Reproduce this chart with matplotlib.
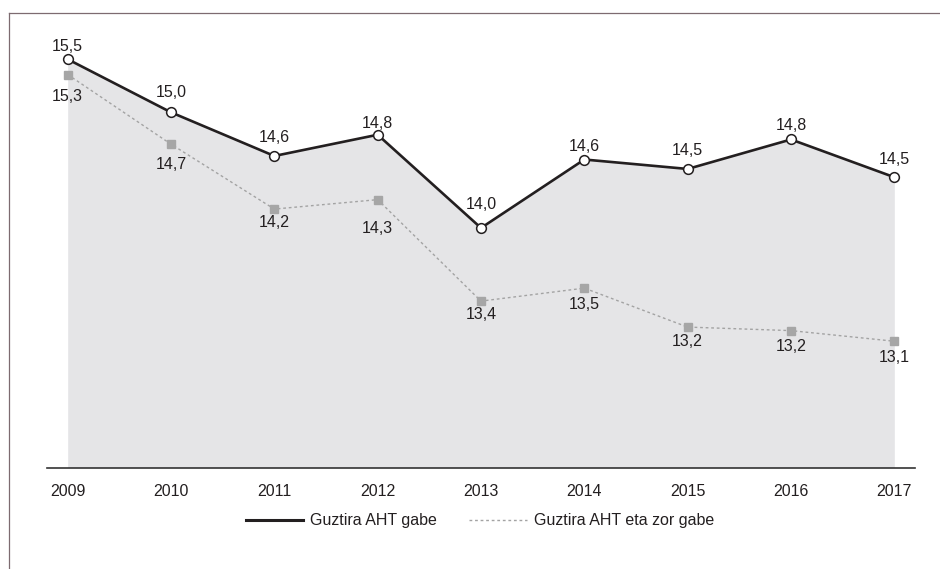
import matplotlib.pyplot as plt
from matplotlib.lines import Line2D

# data
years = ["2009", "2010", "2011", "2012", "2013", "2014", "2015", "2016", "2017"]
total_no_aht = [15.46, 15.01, 14.64, 14.82, 14.03, 14.61, 14.53, 14.78, 14.46]
total_no_aht_debt = [15.33, 14.74, 14.19, 14.27, 13.41, 13.52, 13.19, 13.16, 13.07]
series_names = ["Guztira AHT gabe", "Guztira AHT eta zor gabe"]

# label gaps in pixels (black: point to baseline, grey: point to text top)
BLACK_GAP = [8, 15.5, 14, 7, 19, 9, 14, 9, 13]
GREY_GAP = [14, 13, 5.5, 21, 6, 9, 7, 8.5, 9]

TEXT = "#231f20"
FILL = "#e5e5e7"
GREY_LINE = "#a3a3a3"
GREY_MARK = "#a6a6a6"
FRAME = "#7d6b70"
FS = 11.5

plt.rcParams["font.family"] = ["Liberation Sans", "DejaVu Sans"]
plt.rcParams["font.size"] = FS

fig = plt.figure(figsize=(9.4, 5.69), dpi=100)
ax = fig.add_axes([47 / 940, 1 - 467.5 / 569, 868 / 940, 448.4 / 569])

x = list(range(len(years)))
ax.fill_between(x, total_no_aht, 12, color=FILL, linewidth=0, zorder=1)
ax.plot(x, total_no_aht_debt, color=GREY_LINE, lw=1.0, ls=(0, (2, 2)),
        marker="s", ms=5.8, mfc=GREY_MARK, mec=GREY_MARK, zorder=3)
ax.plot(x, total_no_aht, color=TEXT, lw=1.9, marker="o", ms=7,
        mfc="white", mec=TEXT, mew=1.1, zorder=4)

fmt = lambda v: f"{v:.1f}".replace(".", ",")
for i, v in enumerate(total_no_aht):
    ax.annotate(fmt(v), (i, v), xytext=(0, BLACK_GAP[i]), textcoords="offset pixels",
                ha="center", va="baseline", color=TEXT, fontsize=FS, zorder=5)
for i, v in enumerate(total_no_aht_debt):
    ax.annotate(fmt(v), (i, v), xytext=(0, -GREY_GAP[i]), textcoords="offset pixels",
                ha="center", va="top", color=TEXT, fontsize=FS, zorder=5)

ax.set_xlim(-0.2, 8.2)
ax.set_ylim(12, 15.8)
ax.set_xticks(x)
ax.set_xticklabels(years, color=TEXT, fontsize=FS)
ax.tick_params(axis="x", length=0, pad=12)
ax.set_yticks([])
for side in ["top", "right", "left"]:
    ax.spines[side].set_visible(False)
ax.spines["bottom"].set_color("#333333")
ax.spines["bottom"].set_linewidth(1.2)
ax.patch.set_visible(False)

handles = [
    Line2D([], [], color=TEXT, lw=2.2),
    Line2D([], [], color=GREY_LINE, lw=1.0, ls=(0, (2, 2))),
]
fig.legend(handles, series_names, loc="center", bbox_to_anchor=(480 / 940, 1 - 521 / 569),
           ncol=2, frameon=False, handlelength=3.6, handletextpad=0.45,
           columnspacing=2.0, fontsize=FS, labelcolor=TEXT)

# outer frame (top and left edges only)
fig.add_artist(Line2D([9 / 940, 1], [1 - 13 / 569] * 2, color=FRAME, lw=0.9))
fig.add_artist(Line2D([9 / 940] * 2, [0, 1 - 13 / 569], color=FRAME, lw=0.9))

fig.savefig("out.png", dpi=100)
